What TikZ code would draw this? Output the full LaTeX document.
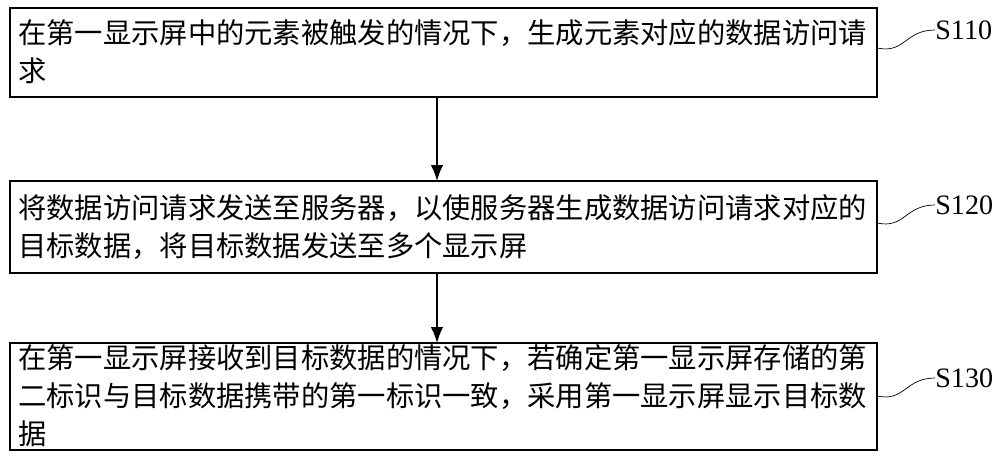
\documentclass[tikz,border=0pt]{standalone}
\usepackage{fontspec}
\setmainfont{Liberation Serif}
\newfontfamily\cjk{Noto Sans CJK SC}
\usetikzlibrary{arrows.meta}
\begin{document}
\begin{tikzpicture}[x=0.02cm,y=-0.02cm,
        steptext/.style={anchor=west, align=left, inner sep=0pt, font=\cjk\fontsize{16.1}{21.6}\selectfont},
        steplabel/.style={anchor=west, inner sep=0pt, font=\fontsize{16}{18}\selectfont}
    ]
        \useasboundingbox (0,0) rectangle (1000,470);
        % Boxes
        \draw[thick] (10,8) rectangle (877,97);
        \draw[thick] (10,181) rectangle (877,273);
        \draw[thick] (10,343) rectangle (877,450);
        \coordinate (s1) at (18,52);
        \coordinate (s2) at (18,227);
        \coordinate (s3) at (18,396);
        \node[steptext] (t1) at (s1) {在第一显示屏中的元素被触发的情况下，生成元素对应的数据访问请\\求};
        \node[steptext] (t2) at (s2) {将数据访问请求发送至服务器，以使服务器生成数据访问请求对应的\\目标数据，将目标数据发送至多个显示屏};
        \node[steptext] (t3) at (s3) {在第一显示屏接收到目标数据的情况下，若确定第一显示屏存储的第\\二标识与目标数据携带的第一标识一致，采用第一显示屏显示目标数\\据};

        % Arrows
        \coordinate (a1) at (437,97);
        \coordinate (b1) at (437,181);
        \coordinate (a2) at (437,273);
        \coordinate (b2) at (437,343);
        \draw[thick,-{Latex[length=9pt,width=7pt]}] (a1) -- (b1);
        \draw[thick,-{Latex[length=9pt,width=7pt]}] (a2) -- (b2);

        % Labels
        \foreach \n/\y in {110/30,120/205,130/378} {
            \node[steplabel] (l\n) at (935,\y) {S\n};
            \draw (877,\y+18) .. controls (905,\y+24) and (905,\y) .. (l\n.west);
        }
    \end{tikzpicture}
\end{document}
